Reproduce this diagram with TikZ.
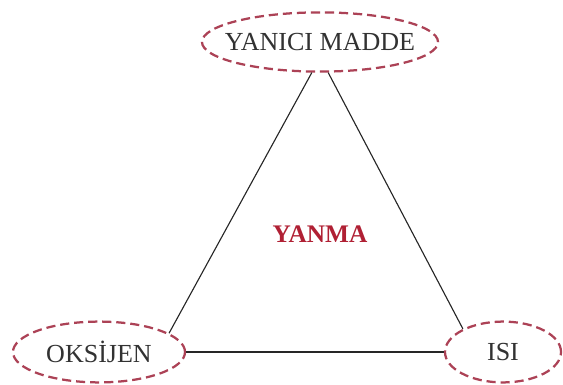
\documentclass[tikz,border=0pt]{standalone}
\usepackage{xcolor}
\usepackage{fontspec}
\setmainfont{Liberation Serif}
\usepackage{tikz}
\usetikzlibrary{shapes.geometric}

\definecolor{dashred}{RGB}{172,66,86}
\definecolor{firered}{RGB}{176,32,52}
\definecolor{inkgray}{RGB}{50,50,50}

\begin{document}
\begin{tikzpicture}[
    x=0.025cm, y=-0.025cm,
    element/.style = {
        ellipse, draw=dashred, line width=1.6pt, dash pattern=on 6.5pt off 3.5pt,
        fill=white, inner sep=0pt, text=inkgray,
        font=\fontsize{18.5}{20}\selectfont
    },
    edge/.style = {
        line width=0.8pt, color=black!85
    }
]

\useasboundingbox (0,0) rectangle (563,385);

% Corners ── the three elements
\node[element, inner xsep=-0.34cm, minimum width=5.9cm, minimum height=1.48cm] (yanici) at (320, 42) {YANICI MADDE};
\node[element, minimum width=4.3cm, minimum height=1.52cm] (oksijen) at (99, 352)  {OKSİJEN};
\node[element, minimum width=2.9cm, minimum height=1.52cm] (isi)     at (503, 352) {ISI};

% Centre
\node[text=firered, font=\fontsize{18}{20}\selectfont\bfseries] (yanma) at (320, 234) {YANMA};

% Triangle sides
\draw[edge] (yanici.255) -- (oksijen.15);
\draw[edge] (yanici.285) -- (isi.150);
\draw[edge] (oksijen.east) -- (isi.west);

\end{tikzpicture}
\end{document}
